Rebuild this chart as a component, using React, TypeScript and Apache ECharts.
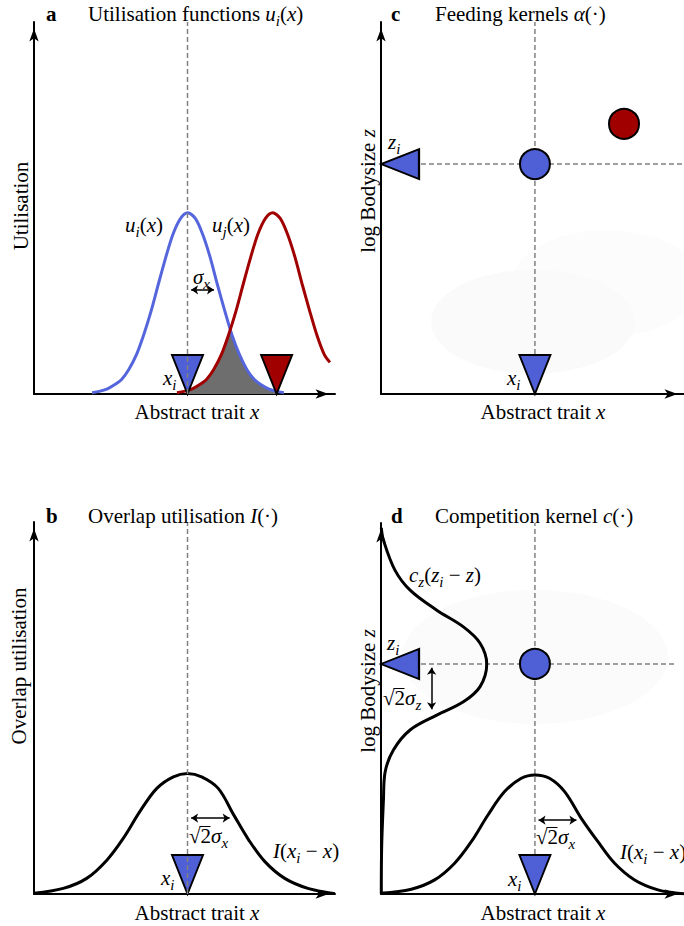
import React, { useEffect, useRef } from "react";
import * as echarts from "echarts";

const SERIF = '"Liberation Serif", "Times New Roman", serif';
const BLUE_FILL = "#4f5fd5";
const BLUE_LINE = "#5566dd";
const RED = "#a00000";
const DASH_COLOR = "#808080";
const FS = 21;

// ---------- Panel a : utilisation functions ----------
const uiX = [1.93, 2.17, 2.42, 2.66, 2.91, 3.15, 3.4, 3.64, 3.89, 4.13, 4.38, 4.62, 4.87, 5.11, 5.36, 5.6, 5.85, 6.09, 6.34, 6.58, 6.83, 7.07, 7.32, 7.56, 7.81, 8.05, 8.3];
const uiY = [0.035, 0.07, 0.13, 0.24, 0.39, 0.66, 1.05, 1.58, 2.23, 2.95, 3.68, 4.3, 4.72, 4.87, 4.72, 4.3, 3.68, 2.95, 2.23, 1.58, 1.05, 0.66, 0.39, 0.24, 0.13, 0.07, 0.035];
const ujX = [4.75, 4.99, 5.24, 5.48, 5.73, 5.97, 6.22, 6.46, 6.71, 6.95, 7.2, 7.44, 7.69, 7.93, 8.18, 8.42, 8.67, 8.91, 9.16, 9.4, 9.65, 9.83];
const ujY = [0.035, 0.07, 0.13, 0.24, 0.39, 0.66, 1.05, 1.58, 2.23, 2.95, 3.68, 4.3, 4.72, 4.87, 4.72, 4.3, 3.68, 2.95, 2.23, 1.58, 1.05, 0.85];
const shadeX = [5.1, 5.24, 5.48, 5.73, 5.97, 6.22, 6.46, 6.52, 6.58, 6.83, 7.07, 7.32, 7.56, 7.81, 8.05];
const shadeY = [0.1, 0.13, 0.24, 0.39, 0.66, 1.05, 1.58, 1.75, 1.58, 1.05, 0.66, 0.39, 0.24, 0.13, 0.07];
const xiA = 5.1;
const xjA = 8.06;
const sigmaArrowA = [[5.22, 2.8], [5.98, 2.8]];

// ---------- Panel b : overlap utilisation ----------
const iBX = [0, 0.97, 1.75, 2.42, 2.97, 3.52, 4.08, 4.63, 5.1, 5.57, 6.12, 6.64, 7.12, 7.67, 8.33, 9.1, 9.83, 10];
const iBY = [0.02, 0.15, 0.42, 0.91, 1.5, 2.22, 2.84, 3.15, 3.24, 3.15, 2.84, 2.12, 1.47, 0.87, 0.42, 0.15, 0.03, 0.01];
const xiB = 5.1;
const sigmaArrowB = [[5.22, 2.04], [6.5, 2.04]];

// ---------- Panel c : feeding kernels ----------
const xiC = 5.08;
const ziC = 6.18;
const speciesJC = [8.02, 7.26];
const blobsC = [[5.02, 1.94], [7.46, 2.98]];

// ---------- Panel d : competition kernel ----------
const iDX = [0, 1.0, 1.77, 2.43, 2.98, 3.53, 4.08, 4.63, 5.08, 5.56, 6.06, 6.61, 7.16, 7.71, 8.37, 9.14, 9.79, 10];
const iDY = [0.02, 0.13, 0.38, 0.83, 1.41, 2.13, 2.76, 3.12, 3.21, 3.12, 2.76, 2.04, 1.41, 0.83, 0.38, 0.11, 0.02, 0.01];
const czX = [0.01, 0.08, 0.46, 0.96, 1.84, 2.72, 3.27, 3.49, 3.27, 2.72, 1.84, 0.96, 0.41, 0.13, 0.08, 0.02, 0.01];
const czY = [9.87, 9.54, 8.73, 8.19, 7.65, 7.2, 6.76, 6.2, 5.59, 5.18, 4.82, 4.42, 3.88, 3.26, 2.53, 1.19, 0];
const xiD = 5.08;
const ziD = 6.2;
const hLineEndD = 9.7;
const blobD = [5.08, 6.39];
const sigmaArrowDx = [[5.2, 1.99], [6.45, 1.99]];
const sigmaArrowDz = [[1.67, 6.1], [1.67, 4.98]];

const zip = (xs: number[], ys: number[]) => xs.map((x, i) => [x, ys[i]]);

const RICH: any = {
  n: { fontFamily: SERIF, fontSize: FS, verticalAlign: "top", fill: "#000" },
  it: { fontFamily: SERIF, fontSize: FS, verticalAlign: "top", fontStyle: "italic", fill: "#000" },
  b: { fontFamily: SERIF, fontSize: FS, verticalAlign: "top", fontWeight: "bold", fill: "#000" },
  sub: { fontFamily: SERIF, fontSize: 15, lineHeight: 25, verticalAlign: "bottom", fontStyle: "italic", fill: "#000" },
};

const label = (x: number, yMain: number, text: string, align = "left") => ({
  type: "text",
  x,
  y: text.includes("{sub|") ? yMain + 2 : yMain,
  z: 100,
  silent: true,
  style: { text, rich: RICH, fill: "#000", align, verticalAlign: "middle", font: `${FS}px ${SERIF}` },
});

const vLabel = (x: number, y: number, text: string) => ({
  type: "text",
  x,
  y,
  rotation: Math.PI / 2,
  z: 100,
  silent: true,
  style: { text, rich: RICH, fill: "#000", align: "center", verticalAlign: "middle", font: `${FS}px ${SERIF}` },
});

// vinculum of the square-root sign, drawn over the "2"
const radicalBar = (x: number, yMain: number) => ({
  type: "line",
  z: 100,
  silent: true,
  shape: { x1: x + 10.5, y1: yMain - 9.5, x2: x + 21.5, y2: yMain - 9.5 },
  style: { stroke: "#000", lineWidth: 1 },
});

const axisBase = (gi: number) => ({
  type: "value",
  gridIndex: gi,
  min: 0,
  max: 10,
  axisLine: {
    show: true,
    onZero: false,
    lineStyle: { color: "#000", width: 2 },
    symbol: ["none", "arrow"],
    symbolSize: [7, 13],
    symbolOffset: [0, -6.5],
  },
  axisTick: { show: false },
  axisLabel: { show: false },
  splitLine: { show: false },
});

const curve = (gi: number, data: number[][], color: string, width: number, extra: any = {}) => ({
  type: "line",
  xAxisIndex: gi,
  yAxisIndex: gi,
  data,
  symbol: "none",
  showSymbol: false,
  silent: true,
  lineStyle: { color, width },
  z: 4,
  ...extra,
});

const dashed = (gi: number, data: number[][], z: number) =>
  curve(gi, data, DASH_COLOR, 1.5, { lineStyle: { color: DASH_COLOR, width: 1.5, type: [5, 3] }, z });

const arrowMark = (pts: number[][]) => ({
  silent: true,
  symbol: ["arrow", "arrow"],
  symbolSize: 7,
  label: { show: false },
  emphasis: { disabled: true },
  lineStyle: { color: "#000", width: 1.5, type: "solid" },
  data: [[{ coord: pts[0] }, { coord: pts[1] }]],
});

const triDown = (gi: number, x: number, color: string) => ({
  type: "scatter",
  xAxisIndex: gi,
  yAxisIndex: gi,
  data: [[x, 0]],
  symbol: "triangle",
  symbolSize: [31, 39],
  symbolRotate: 180,
  symbolOffset: [0, -19.5],
  itemStyle: { color, borderColor: "#000", borderWidth: 2, opacity: 1 },
  clip: false,
  silent: true,
  z: 5,
});

const triLeft = (gi: number, y: number) => ({
  type: "scatter",
  xAxisIndex: gi,
  yAxisIndex: gi,
  data: [[0, y]],
  symbol: "triangle",
  symbolSize: [30, 38],
  symbolRotate: 90,
  symbolOffset: [19, 0],
  itemStyle: { color: BLUE_FILL, borderColor: "#000", borderWidth: 2, opacity: 1 },
  clip: false,
  silent: true,
  z: 5,
});

const dot = (gi: number, p: number[], color: string) => ({
  type: "scatter",
  xAxisIndex: gi,
  yAxisIndex: gi,
  data: [p],
  symbol: "circle",
  symbolSize: 30,
  itemStyle: { color, borderColor: "#000", borderWidth: 2, opacity: 1 },
  clip: false,
  silent: true,
  z: 7,
});

const blob = (gi: number, p: number[], size: number[], color: string) => ({
  type: "scatter",
  xAxisIndex: gi,
  yAxisIndex: gi,
  data: [p],
  symbol: "circle",
  symbolSize: size,
  itemStyle: { color, opacity: 1 },
  clip: false,
  silent: true,
  z: 1,
});

const option: any = {
  animation: false,
  backgroundColor: "#fff",
  grid: [
    { left: 34, top: 22, width: 301, height: 372 },
    { left: 34, top: 522, width: 301, height: 372 },
    { left: 381, top: 22, width: 303, height: 372 },
    { left: 381, top: 523, width: 303, height: 371 },
  ],
  xAxis: [0, 1, 2, 3].map(axisBase),
  yAxis: [0, 1, 2, 3].map(axisBase),
  series: [
    // panel a
    curve(0, zip(shadeX, shadeY), "#b0b0b0", 1, { areaStyle: { color: "#6e6e6e", opacity: 1 }, z: 2 }),
    curve(0, zip(uiX, uiY), BLUE_LINE, 3, { smooth: 0.3, markLine: arrowMark(sigmaArrowA) }),
    curve(0, zip(ujX, ujY), RED, 3, { smooth: 0.3 }),
    triDown(0, xiA, BLUE_FILL),
    triDown(0, xjA, RED),
    dashed(0, [[xiA, 0], [xiA, 10]], 6),
    // panel b
    curve(1, zip(iBX, iBY), "#000", 3, { smooth: 0.35, markLine: arrowMark(sigmaArrowB) }),
    triDown(1, xiB, BLUE_FILL),
    dashed(1, [[xiB, 0], [xiB, 10]], 6),
    // panel c
    blob(2, blobsC[1], [190, 106], "#fcfcfc"),
    blob(2, blobsC[0], [204, 104], "#fafafa"),
    dashed(2, [[xiC, 0], [xiC, 10]], 3),
    dashed(2, [[0, ziC], [10, ziC]], 3),
    triDown(2, xiC, BLUE_FILL),
    triLeft(2, ziC),
    dot(2, [xiC, ziC], BLUE_FILL),
    dot(2, speciesJC, RED),
    // panel d
    blob(3, blobD, [266, 134], "#fbfbfb"),
    dashed(3, [[xiD, 0], [xiD, 10]], 3),
    dashed(3, [[0, ziD], [hLineEndD, ziD]], 3),
    curve(3, zip(czX, czY), "#000", 3, { smooth: 0.35, markLine: arrowMark(sigmaArrowDz) }),
    curve(3, zip(iDX, iDY), "#000", 3, { smooth: 0.35, markLine: arrowMark(sigmaArrowDx) }),
    triDown(3, xiD, BLUE_FILL),
    triLeft(3, ziD),
    dot(3, [xiD, ziD], BLUE_FILL),
  ],
  graphic: [
    // titles
    label(46, 14, "{b|a}"),
    label(88, 14, "{n|Utilisation functions }{it|u}{sub|i}{n|(}{it|x}{n|)}"),
    label(46, 516, "{b|b}"),
    label(88, 516, "{n|Overlap utilisation }{it|I}{n|(·)}"),
    label(391, 14, "{b|c}"),
    label(435, 14, "{n|Feeding kernels }{it|α}{n|(·)}"),
    label(391, 516, "{b|d}"),
    label(435, 516, "{n|Competition kernel }{it|c}{n|(·)}"),
    // axis names
    label(197, 412, "{n|Abstract trait }{it|x}", "center"),
    label(197, 913, "{n|Abstract trait }{it|x}", "center"),
    label(543, 412, "{n|Abstract trait }{it|x}", "center"),
    label(543, 913, "{n|Abstract trait }{it|x}", "center"),
    vLabel(21, 206, "{n|Utilisation}"),
    vLabel(19, 666, "{n|Overlap utilisation}"),
    vLabel(368, 191, "{n|log Bodysize }{it|z}"),
    vLabel(368, 691, "{n|log Bodysize }{it|z}"),
    // panel a annotations
    label(125, 225, "{it|u}{sub|i}{n|(}{it|x}{n|)}"),
    label(212, 225, "{it|u}{sub|j}{n|(}{it|x}{n|)}"),
    label(193, 277, "{it|σ}{sub|x}"),
    label(163, 378, "{it|x}{sub|i}"),
    // panel b annotations
    label(189, 836, "{n|√2}{it|σ}{sub|x}"),
    radicalBar(189, 836),
    label(273, 851, "{it|I}{n|(}{it|x}{sub|i}{n| − }{it|x}{n|)}"),
    label(161, 878, "{it|x}{sub|i}"),
    // panel c annotations
    label(388, 142, "{it|z}{sub|i}"),
    label(507, 378, "{it|x}{sub|i}"),
    // panel d annotations
    label(409, 575, "{it|c}{sub|z}{n|(}{it|z}{sub|i}{n| − }{it|z}{n|)}"),
    label(387, 643, "{it|z}{sub|i}"),
    label(383, 698, "{n|√2}{it|σ}{sub|z}"),
    radicalBar(383, 698),
    label(536, 837, "{n|√2}{it|σ}{sub|x}"),
    radicalBar(536, 837),
    label(620, 852, "{it|I}{n|(}{it|x}{sub|i}{n| − }{it|x}{n|)}"),
    label(508, 879, "{it|x}{sub|i}"),
  ],
};

export default function App() {
  const ref = useRef<HTMLDivElement>(null);
  useEffect(() => {
    document.body.style.margin = "0";
    const chart = echarts.init(ref.current as HTMLDivElement, null, { renderer: "svg", width: 684, height: 926 });
    chart.setOption(option);
    return () => chart.dispose();
  }, []);
  return <div ref={ref} style={{ width: 684, height: 926, background: "#fff" }} />;
}
